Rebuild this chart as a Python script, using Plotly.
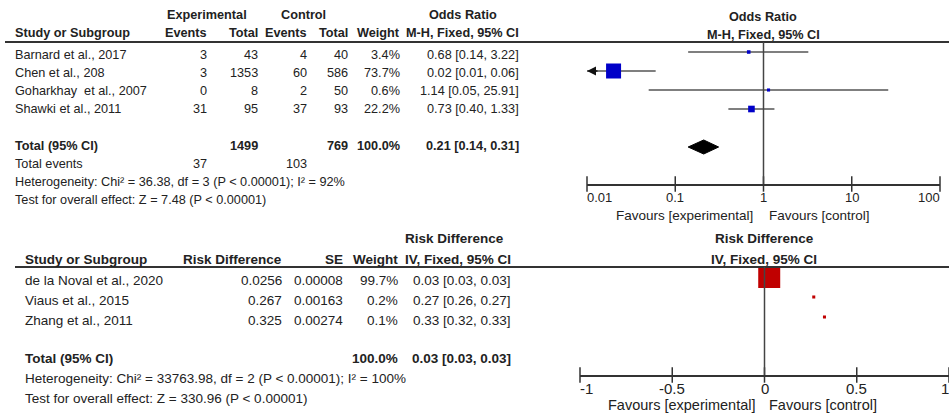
import math
import plotly.graph_objects as go

# ---------------- data: top panel (Odds Ratio) ----------------
or_studies = ["Barnard et al., 2017", "Chen et al., 208", "Goharkhay  et al., 2007", "Shawki et al., 2011"]
exp_events = [3, 3, 0, 31]
exp_total = [43, 1353, 8, 95]
ctl_events = [4, 60, 2, 37]
ctl_total = [40, 586, 50, 93]
or_weight = [3.4, 73.7, 0.6, 22.2]
or_est = [0.68, 0.02, 1.14, 0.73]
or_lo = [0.14, 0.01, 0.05, 0.40]
or_hi = [3.22, 0.06, 25.91, 1.33]
or_total_n = [1499, 769]
or_total_events = [37, 103]
or_total_weight = 100.0
or_total = [0.21, 0.14, 0.31]
or_het = "Heterogeneity: Chi² = 36.38, df = 3 (P < 0.00001); I² = 92%"
or_test = "Test for overall effect: Z = 7.48 (P < 0.00001)"
or_ticks = [0.01, 0.1, 1, 10, 100]
or_ticktext = ["0.01", "0.1", "1", "10", "100"]

# ---------------- data: bottom panel (Risk Difference) ----------------
rd_studies = ["de la Noval et al., 2020", "Viaus et al., 2015", "Zhang et al., 2011"]
rd_value = [0.0256, 0.267, 0.325]
rd_se = [0.00008, 0.00163, 0.00274]
rd_weight = [99.7, 0.2, 0.1]
rd_est = [0.03, 0.27, 0.33]
rd_lo = [0.03, 0.26, 0.32]
rd_hi = [0.03, 0.27, 0.33]
rd_total_weight = 100.0
rd_total = [0.03, 0.03, 0.03]
rd_het = "Heterogeneity: Chi² = 33763.98, df = 2 (P < 0.00001); I² = 100%"
rd_test = "Test for overall effect: Z = 330.96 (P < 0.00001)"
rd_ticks = [-1, -0.5, 0, 0.5, 1]
rd_ticktext = ["-1", "-0.5", "0", "0.5", "1"]

# ---------------- layout helpers ----------------
W, H = 949, 416
FONT = "Liberation Sans, Arial, sans-serif"
TXT = "#222222"
BLUE = "#0000C8"
RED = "#C00000"
GREY = "#555555"


def px(x):
    return x / W


def py(y):
    return 1 - y / H


annotations = []
shapes = []


def text(x, y, s, anchor="left", size=12.7, bold=False, color=TXT, xref="paper"):
    annotations.append(dict(
        x=px(x) if xref == "paper" else x, y=py(y), xref=xref, yref="paper",
        text=("<b>%s</b>" % s) if bold else s,
        showarrow=False, xanchor=anchor, yanchor="middle", borderpad=0, borderwidth=0,
        font=dict(family=FONT, size=size, color=color)))


def hline(x0, x1, y, width=2, color="#333333"):
    shapes.append(dict(type="line", xref="paper", yref="paper", x0=px(x0), x1=px(x1),
                       y0=py(y), y1=py(y), line=dict(color=color, width=width)))


fig = go.Figure()

# ======================= TOP PANEL =======================
T_RULE, T_AXIS = 42, 184
T_ROW0, T_ROWH = 52, 19
T_TOTAL_ROW = 5
t_yrange = [(T_AXIS - T_ROW0) / T_ROWH, (T_RULE - T_ROW0) / T_ROWH]

# table headers
text(207, 15, "Experimental", "center", bold=True)
text(303, 15, "Control", "center", bold=True)
text(463, 15, "Odds Ratio", "center", bold=True)
text(15, 33, "Study or Subgroup", bold=True)
text(207, 33, "Events", "right", bold=True)
text(258, 33, "Total", "right", bold=True)
text(307, 33, "Events", "right", bold=True)
text(348, 33, "Total", "right", bold=True)
text(400, 33, "Weight", "right", bold=True)
text(519, 33, "M-H, Fixed, 95% CI", "right", bold=True)
text(763, 17, "Odds Ratio", "center", bold=True)
text(763, 35, "M-H, Fixed, 95% CI", "center", bold=True)
hline(5, 949, T_RULE)

t_text_rows = [55, 73, 91, 109]
for i, s in enumerate(or_studies):
    yy = t_text_rows[i]
    text(15, yy, s)
    text(207, yy, str(exp_events[i]), "right")
    text(258, yy, str(exp_total[i]), "right")
    text(307, yy, str(ctl_events[i]), "right")
    text(348, yy, str(ctl_total[i]), "right")
    text(400, yy, "%.1f%%" % or_weight[i], "right")
    text(519, yy, "%.2f [%.2f, %.2f]" % (or_est[i], or_lo[i], or_hi[i]), "right")

text(15, 146, "Total (95% CI)", bold=True)
text(258, 146, str(or_total_n[0]), "right", bold=True)
text(348, 146, str(or_total_n[1]), "right", bold=True)
text(400, 146, "%.1f%%" % or_total_weight, "right", bold=True)
text(519, 146, "%.2f [%.2f, %.2f]" % tuple(or_total), "right", bold=True)
text(15, 164, "Total events")
text(207, 164, str(or_total_events[0]), "right")
text(307, 164, str(or_total_events[1]), "right")
text(15, 182, or_het)
text(15, 200, or_test)

# axis tick labels (edge labels kept inside the axis span, as in RevMan)
for i, (v, t) in enumerate(zip(or_ticks, or_ticktext)):
    anc = "left" if i == 0 else ("right" if i == len(or_ticks) - 1 else "center")
    text(math.log10(v), 197, t, anc, size=13, xref="x")

text(753, 215, "Favours [experimental]", "right", size=13.5)
text(769, 215, "Favours [control]", "left", size=13.5)

# CI lines
cx, cy = [], []
for i in range(len(or_studies)):
    cx += [or_lo[i], or_hi[i], None]
    cy += [i, i, None]
fig.add_trace(go.Scatter(x=cx, y=cy, mode="lines", line=dict(color=GREY, width=1.5),
                         xaxis="x", yaxis="y", hoverinfo="skip", cliponaxis=False))
# squares
wmax = max(or_weight)
fig.add_trace(go.Scatter(x=or_est, y=list(range(len(or_studies))), mode="markers",
                         marker=dict(symbol="square", color=BLUE, opacity=1,
                                     size=[3 + 12 * w / wmax for w in or_weight], line=dict(width=0)),
                         xaxis="x", yaxis="y", cliponaxis=False))
# arrows for CIs reaching the axis limit (log axis: annotation x in log10 units)
for i in range(len(or_studies)):
    if or_lo[i] <= or_ticks[0]:
        annotations.append(dict(x=math.log10(or_ticks[0]), y=i, xref="x", yref="y", ax=12, ay=0,
                                showarrow=True, arrowhead=2, arrowsize=1.2, arrowwidth=1.5,
                                arrowcolor="#111111", text=""))
# diamond
dh = 0.37
fig.add_trace(go.Scatter(x=[or_total[1], or_total[0], or_total[2], or_total[0], or_total[1]],
                         y=[T_TOTAL_ROW, T_TOTAL_ROW - dh, T_TOTAL_ROW, T_TOTAL_ROW + dh, T_TOTAL_ROW],
                         mode="lines", fill="toself", fillcolor="black", line=dict(color="black", width=1),
                         xaxis="x", yaxis="y", cliponaxis=False))
# tick marks crossing the axis
fig.add_trace(go.Scatter(x=or_ticks, y=[t_yrange[0]] * len(or_ticks), mode="markers",
                         marker=dict(symbol="line-ns", size=11, line=dict(color="#333333", width=1.5)),
                         xaxis="x", yaxis="y", cliponaxis=False))
shapes.append(dict(type="line", xref="x", yref="y domain", x0=1, x1=1, y0=0, y1=1,
                   line=dict(color="#444444", width=1.5)))

# ======================= BOTTOM PANEL =======================
B_RULE, B_AXIS = 267, 375
B_ROW0, B_ROWH = 277, 20
b_yrange = [(B_AXIS - B_ROW0) / B_ROWH, (B_RULE - B_ROW0) / B_ROWH]

BS = 13.5
text(454, 239, "Risk Difference", "center", size=BS, bold=True)
text(25, 259, "Study or Subgroup", size=BS, bold=True)
text(282, 259, "Risk Difference", "right", size=BS, bold=True)
text(343, 259, "SE", "right", size=BS, bold=True)
text(398, 259, "Weight", "right", size=BS, bold=True)
text(511, 259, "IV, Fixed, 95% CI", "right", size=BS, bold=True)
text(764, 239, "Risk Difference", "center", size=BS, bold=True)
text(764, 259, "IV, Fixed, 95% CI", "center", size=BS, bold=True)
hline(15, 949, B_RULE)

b_text_rows = [280, 300, 320]
for i, s in enumerate(rd_studies):
    yy = b_text_rows[i]
    text(25, yy, s, size=BS)
    text(282, yy, "%g" % rd_value[i], "right", size=BS)
    text(343, yy, "%.5f" % rd_se[i], "right", size=BS)
    text(398, yy, "%.1f%%" % rd_weight[i], "right", size=BS)
    text(511, yy, "%.2f [%.2f, %.2f]" % (rd_est[i], rd_lo[i], rd_hi[i]), "right", size=BS)

text(25, 358, "Total (95% CI)", size=BS, bold=True)
text(398, 358, "%.1f%%" % rd_total_weight, "right", size=BS, bold=True)
text(511, 358, "%.2f [%.2f, %.2f]" % tuple(rd_total), "right", size=BS, bold=True)
text(25, 378, rd_het, size=BS)
text(25, 398, rd_test, size=BS)

for i, (v, t) in enumerate(zip(rd_ticks, rd_ticktext)):
    anc = "left" if i == 0 else ("right" if i == len(rd_ticks) - 1 else "center")
    text(v, 388, t, anc, size=15, xref="x2")

text(755, 405, "Favours [experimental]", "right", size=14.5)
text(769, 405, "Favours [control]", "left", size=14.5)

bx, by = [], []
for i in range(len(rd_studies)):
    bx += [rd_value[i] - 1.96 * rd_se[i], rd_value[i] + 1.96 * rd_se[i], None]
    by += [i, i, None]
fig.add_trace(go.Scatter(x=bx, y=by, mode="lines", line=dict(color=GREY, width=1.5),
                         xaxis="x2", yaxis="y2", hoverinfo="skip", cliponaxis=False))
rmax = max(rd_weight)
fig.add_trace(go.Scatter(x=rd_value, y=list(range(len(rd_studies))), mode="markers",
                         marker=dict(symbol="square", color=RED, opacity=1,
                                     size=[3 + 19 * w / rmax for w in rd_weight], line=dict(width=0)),
                         xaxis="x2", yaxis="y2", cliponaxis=False))
fig.add_trace(go.Scatter(x=rd_ticks, y=[b_yrange[0]] * len(rd_ticks), mode="markers",
                         marker=dict(symbol="line-ns", size=11, line=dict(color="#333333", width=1.5)),
                         xaxis="x2", yaxis="y2", cliponaxis=False))
shapes.append(dict(type="line", xref="x2", yref="y2 domain", x0=0, x1=0, y0=0, y1=1,
                   line=dict(color="#444444", width=1.5)))

# ======================= AXES =======================
fig.update_layout(
    width=W, height=H, margin=dict(l=0, r=0, t=0, b=0, pad=0),
    paper_bgcolor="white", plot_bgcolor="rgba(0,0,0,0)", showlegend=False,
    annotations=annotations, shapes=shapes,
    xaxis=dict(type="log", range=[-2, 2], domain=[px(587), px(940)], anchor="y",
               showgrid=False, zeroline=False, showline=True, linecolor="#333333", linewidth=1.5,
               ticks="", showticklabels=False, automargin=False),
    yaxis=dict(range=t_yrange, domain=[py(T_AXIS), py(T_RULE)], anchor="x",
               visible=False),
    xaxis2=dict(range=[-1, 1], domain=[px(580), 1.0], anchor="y2",
                showgrid=False, zeroline=False, showline=True, linecolor="#333333", linewidth=1.5,
                ticks="", showticklabels=False, automargin=False),
    yaxis2=dict(range=b_yrange, domain=[py(B_AXIS), py(B_RULE)], anchor="x2",
                visible=False),
)

fig.write_html("out.html", config={"displayModeBar": False},
               post_script="document.body.style.margin='0';document.body.style.overflow='hidden';")
